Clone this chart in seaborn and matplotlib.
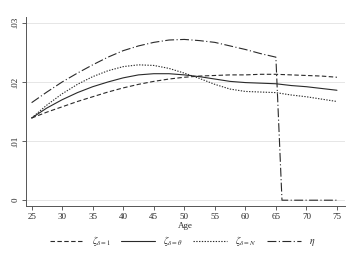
import pandas as pd
import numpy as np
import seaborn as sns
import matplotlib.pyplot as plt

ages = [25, 27.5, 30, 32.5, 35, 37.5, 40, 42.5, 45, 47.5, 50, 52.5, 55,
        57.5, 60, 62.5, 65, 67.5, 70, 72.5, 75]
zeta_1 = [.0139, .0149, .0158, .0167, .0175, .0183, .0190, .0196, .0201, .0205, .0208,
          .0210, .0211, .0212, .0212, .0213, .0213, .0212, .0211, .0210, .0208]
zeta_theta = [.0139, .0156, .0170, .0182, .0192, .0200, .0207, .0212, .0214, .0214, .0212,
              .0209, .0205, .0201, .0199, .0198, .0197, .0194, .0192, .0189, .0186]
zeta_N = [.0139, .0161, .0180, .0196, .0209, .0219, .0226, .0229, .0228, .0223, .0215,
          .0206, .0196, .0188, .0184, .0183, .0182, .0178, .0175, .0171, .0167]
eta_ages = [25, 27.5, 30, 32.5, 35, 37.5, 40, 42.5, 45, 47.5, 50, 52.5, 55,
            57.5, 60, 62.5, 65, 66, 67.5, 70, 72.5, 75]
eta = [.0165, .0183, .0200, .0215, .0229, .0242, .0253, .0261, .0267, .0271, .0272,
       .0270, .0267, .0261, .0255, .0248, .0242, 0, 0, 0, 0, 0]

labels = [r'$\zeta_{\delta=1}$', r'$\zeta_{\delta=\theta}$', r'$\zeta_{\delta=N}$', r'$\eta$']

df = pd.concat([
    pd.DataFrame({'Age': ages, 'val': zeta_1, 'series': labels[0]}),
    pd.DataFrame({'Age': ages, 'val': zeta_theta, 'series': labels[1]}),
    pd.DataFrame({'Age': ages, 'val': zeta_N, 'series': labels[2]}),
    pd.DataFrame({'Age': eta_ages, 'val': eta, 'series': labels[3]}),
])

sns.set_style('white')
plt.rcParams['font.family'] = ['Liberation Serif', 'DejaVu Serif']
plt.rcParams['mathtext.fontset'] = 'stix'

fig, ax = plt.subplots(figsize=(3.53, 2.57), dpi=100)
fig.subplots_adjust(left=0.074, right=0.977, top=0.934, bottom=0.198)

dashes = {labels[0]: (4, 2.2), labels[1]: '', labels[2]: (1.2, 1.3), labels[3]: (8, 2.2, 1, 2.2)}
sns.lineplot(data=df, x='Age', y='val', hue='series', style='series',
             palette=['#2a2a2a'] * 4, dashes=dashes, linewidth=0.8, ax=ax, legend=True)

ax.set_xlim(24.1, 76.3)
ax.set_ylim(-0.001, 0.031)
ax.set_xticks([25, 30, 35, 40, 45, 50, 55, 60, 65, 70, 75])
ax.set_yticks([0, .01, .02, .03])
ax.set_yticklabels(['0', '.01', '.02', '.03'], rotation=90, va='center')
ax.tick_params(axis='both', labelsize=6.5, length=3, width=0.6, color='#444444', pad=2)
ax.tick_params(left=True, bottom=True)
ax.set_xlabel('Age', fontsize=6.5, labelpad=1)
ax.set_ylabel('')
ax.yaxis.grid(True, color='#e6e6e6', linewidth=0.7)
for s in ['top', 'right']:
    ax.spines[s].set_visible(False)
for s in ['left', 'bottom']:
    ax.spines[s].set_color('#555555')
    ax.spines[s].set_linewidth(0.7)

handles, lbls = ax.get_legend_handles_labels()
ax.legend(handles, lbls, loc='center', bbox_to_anchor=(0.49, -0.185), ncol=4,
          frameon=False, fontsize=7, handlelength=3.5, columnspacing=1.1,
          handletextpad=0.8, borderpad=0.2)

fig.savefig('out.png', dpi=100)
